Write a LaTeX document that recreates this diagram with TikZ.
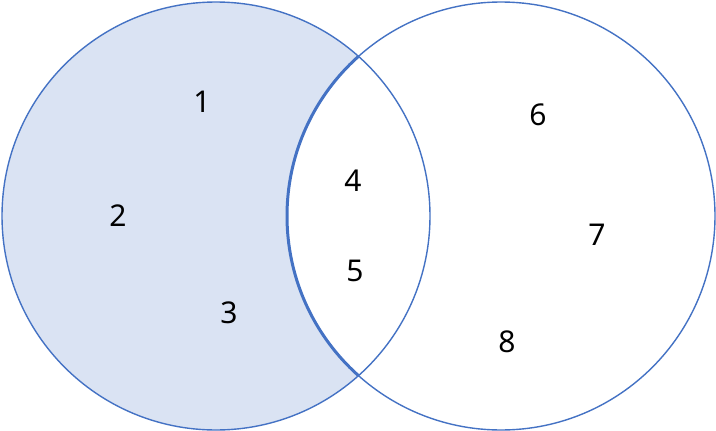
\documentclass[tikz,border=0pt]{standalone}
\usepackage{fontspec}
\setmainfont{Noto Sans}
\definecolor{vblue}{HTML}{4472C4}
\definecolor{vfill}{HTML}{DAE3F3}
\begin{document}
\begin{tikzpicture}[x=1pt,y=-1pt,
  lbl/.style={font=\fontsize{30}{32}\selectfont, text=black, inner sep=0pt},
  ring/.style={draw=vblue, line width=1.4pt}]
\useasboundingbox (0,0) rectangle (716,431);
\fill[vfill] (216,216) circle[radius=214];
\fill[white] (501,216) circle[radius=214];
\begin{scope}
  \clip (216,216) circle[radius=214];
  \draw[draw=vblue, line width=3pt] (501,216) circle[radius=214];
\end{scope}
\draw[ring] (216,216) circle[radius=214];
\draw[ring] (501,216) circle[radius=214];
\node[lbl] (n1) at (202,102) {1};
\node[lbl] (n2) at (118,216) {2};
\node[lbl] (n3) at (229,313) {3};
\node[lbl] (n4) at (353,181) {4};
\node[lbl] (n5) at (355,271) {5};
\node[lbl] (n6) at (538,115) {6};
\node[lbl] (n7) at (597,235) {7};
\node[lbl] (n8) at (507,342) {8};
\end{tikzpicture}
\end{document}
